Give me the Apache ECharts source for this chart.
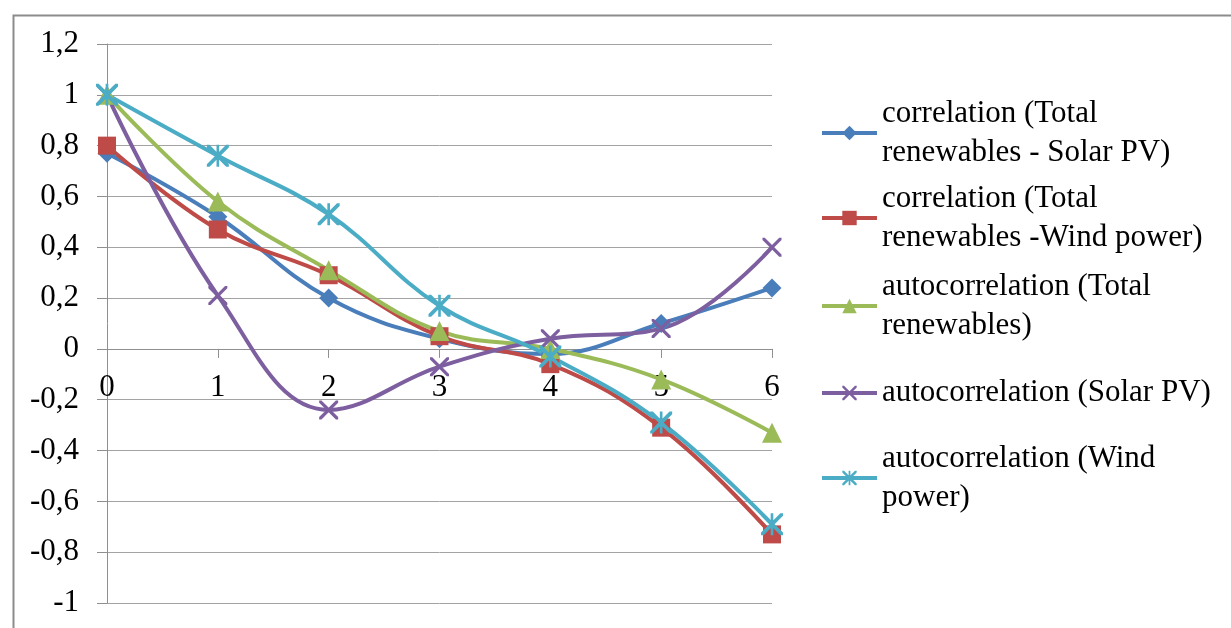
<!DOCTYPE html>
<html><head><meta charset="utf-8">
<script src="https://cdn.jsdelivr.net/npm/echarts@6/dist/echarts.min.js"></script>
<style>html,body{margin:0;padding:0;background:#fff}#c{width:1231px;height:628px}</style>
</head><body><div id="c"></div>
<script>
const categories = ['0', '1', '2', '3', '4', '5', '6'];
const seriesNames = [
  'correlation (Total renewables - Solar PV)',
  'correlation (Total renewables -Wind power)',
  'autocorrelation (Total renewables)',
  'autocorrelation (Solar PV)',
  'autocorrelation (Wind power)'
];
const legendLabels = [
  'correlation (Total\nrenewables - Solar PV)',
  'correlation (Total\nrenewables -Wind power)',
  'autocorrelation (Total\nrenewables)',
  'autocorrelation (Solar PV)',
  'autocorrelation (Wind\npower)'
];
const corrSolar = [0.77, 0.52, 0.20, 0.04, -0.02, 0.10, 0.24];
const corrWind  = [0.80, 0.47, 0.29, 0.05, -0.06, -0.31, -0.73];
const autoTotal = [1.00, 0.58, 0.31, 0.07, 0.00, -0.12, -0.33];
const autoSolar = [1.00, 0.21, -0.24, -0.07, 0.04, 0.08, 0.40];
const autoWind  = [1.00, 0.76, 0.53, 0.17, -0.03, -0.29, -0.69];
const yMin = -1, yMax = 1.2, yStep = 0.2;

const colors = ['#4A7EBB', '#BE4B48', '#9BBB59', '#7D5FA0', '#4BACC6'];
const X_PATH = 'path://M0,0 L1.2,0 L10,8.8 L10,10 L8.8,10 L0,1.2 Z M10,0 L10,1.2 L1.2,10 L0,10 L0,8.8 L8.8,0 Z';
const STAR_PATH = 'path://M0,0 L1.2,0 L10,8.8 L10,10 L8.8,10 L0,1.2 Z M10,0 L10,1.2 L1.2,10 L0,10 L0,8.8 L8.8,0 Z M4.4,0 L5.6,0 L5.6,10 L4.4,10 Z';
const symbols = ['diamond', 'rect', 'triangle', X_PATH, STAR_PATH];
const symbolSizes = [19, 18, 20, 19, 22];
const dataSets = [corrSolar, corrWind, autoTotal, autoSolar, autoWind];

const FONT = '"Liberation Serif", "Times New Roman", serif';
const FS = 31;
const LH = 39;
const legendCenters = [133, 218, 306, 393, 478];

const GRID_TOP = 44, GRID_BOTTOM_Y = 603;
const zeroOffset = (GRID_BOTTOM_Y - GRID_TOP) * (0 - yMin) / (yMax - yMin);

const legends = seriesNames.map((name, i) => {
  const n = legendLabels[i].split('\n').length;
  return {
    data: [name],
    orient: 'vertical',
    left: 820,
    top: legendCenters[i] - (2 * n - 1) * LH / 2,
    padding: 0,
    itemWidth: 55,
    itemHeight: 18,
    formatter: () => legendLabels[i],
    selectedMode: false,
    lineStyle: {width: 4},
    textStyle: {
      fontFamily: FONT, fontSize: FS, color: '#000', lineHeight: LH,
      padding: [(n - 1) * LH, 0, 0, 0]
    }
  };
});

const chart = echarts.init(document.getElementById('c'), null, {renderer: 'canvas'});
chart.setOption({
  animation: false,
  backgroundColor: '#fff',
  graphic: [{
    type: 'rect', left: 11, top: 13, z: -10,
    shape: {width: 1240, height: 640},
    style: {fill: 'none', stroke: '#8c8c8c', lineWidth: 2}
  }],
  grid: {left: 107, right: 459, top: GRID_TOP, bottom: 628 - GRID_BOTTOM_Y, containLabel: false, outerBoundsMode: 'none'},
  legend: legends,
  xAxis: {
    type: 'category', data: categories, boundaryGap: false,
    position: 'bottom', offset: -zeroOffset,
    axisLine: {onZero: false, lineStyle: {color: '#8f8f8f', width: 1}},
    axisTick: {show: true, length: 9, lineStyle: {color: '#8f8f8f'}},
    axisLabel: {fontFamily: FONT, fontSize: FS, color: '#000', margin: 23},
    splitLine: {show: false}
  },
  yAxis: {
    type: 'value', min: yMin, max: yMax, interval: yStep,
    axisLine: {show: true, lineStyle: {color: '#8f8f8f', width: 1}},
    axisTick: {show: true, length: 10, lineStyle: {color: '#8f8f8f'}},
    axisLabel: {
      fontFamily: FONT, fontSize: FS, color: '#000', margin: 28,
      formatter: v => String(Math.round(v * 10) / 10).replace('.', ',')
    },
    splitLine: {show: true, lineStyle: {color: '#a3a3a3', width: 1}}
  },
  series: seriesNames.map((name, i) => ({
    name, type: 'line', data: dataSets[i], smooth: 0.4,
    symbol: symbols[i], symbolSize: symbolSizes[i], showSymbol: true,
    color: colors[i],
    lineStyle: {width: 4, color: colors[i]},
    itemStyle: {color: colors[i]}
  }))
});
</script></body></html>
